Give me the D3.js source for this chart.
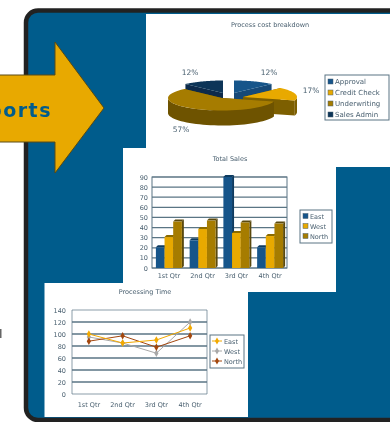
<!DOCTYPE html>
<html><head><meta charset="utf-8">
<script src="https://cdn.jsdelivr.net/npm/d3@7"></script>
<style>html,body{margin:0;padding:0;background:#fff;overflow:hidden}svg{display:block}text{font-family:"DejaVu Sans",sans-serif}</style>
</head><body><svg id="c" width="390" height="422"></svg>
<script>
const pieLabels=["Approval","Credit Check","Underwriting","Sales Admin"];
const pieValues=[12,17,57,12];
const pieTexts=["12%","17%","57%","12%"];
const quarters=["1st Qtr","2nd Qtr","3rd Qtr","4th Qtr"];
const barSeries=["East","West","North"];
const barEast=[20.4,27.4,90,20.4];
const barWest=[30.6,38.6,34.6,31.6];
const barNorth=[45.9,46.9,45,43.9];
const barTicks=[0,10,20,30,40,50,60,70,80,90];
const lineSeries=["East","West","North"];
const lineEast=[100,85,90,110];
const lineWest=[95,85,68,120];
const lineNorth=[88,97,78,97];
const lineTicks=[0,20,40,60,80,100,120,140];

const BLUE="#005c8c",GOLD="#e8a900",OLIVE="#a67c00",NAVY="#0b3558",STEEL="#14548a",INK="#4a6070",GRID="#5a7484";
const svg=d3.select("#c");
const defs=svg.append("defs");
defs.append("filter").attr("id","soft").attr("filterUnits","userSpaceOnUse").attr("x",-10).attr("y",-10).attr("width",420).attr("height",450)
  .append("feGaussianBlur").attr("stdDeviation",0.6);
const root=svg.append("g").attr("filter","url(#soft)");

// stray mark at the left edge
root.append("rect").attr("x",0).attr("y",329).attr("width",1.5).attr("height",9).attr("fill","#666");

// frame
root.append("rect").attr("x",26).attr("y",10.5).attr("width",400).attr("height",409.5).attr("rx",12)
  .attr("fill",BLUE).attr("stroke","#222").attr("stroke-width",4.5);

// panels
root.append("rect").attr("x",146).attr("y",14).attr("width",244).attr("height",153).attr("fill","#fff");
root.append("rect").attr("x",123).attr("y",148).attr("width",213).attr("height",144).attr("fill","#fff");
root.append("rect").attr("x",44.5).attr("y",283).attr("width",203.5).attr("height",134).attr("fill","#fff");

// arrow
root.append("path").attr("d",d3.line()([[-4,75],[55,75],[55,42],[104,108],[55,173],[55,142],[-4,142]])+"Z")
  .attr("fill",GOLD).attr("stroke","#5a4a10").attr("stroke-width",1);
root.append("text").attr("x",52).attr("y",117).attr("text-anchor","end").attr("font-size",19).attr("font-weight","bold")
  .attr("letter-spacing",1.5).attr("fill",BLUE).text("Reports");

function title(x,y,t){root.append("text").attr("x",x).attr("y",y).attr("text-anchor","middle").attr("font-size",6.5).attr("fill",INK).text(t);}
function legend(x,y,w,h,names,colors,dy,fs,line){
  root.append("rect").attr("x",x).attr("y",y).attr("width",w).attr("height",h).attr("fill","#fff").attr("stroke",GRID).attr("stroke-width",1);
  names.forEach((n,i)=>{
    const yy=y+dy/2+1+i*dy;
    if(line){
      root.append("line").attr("x1",x+2).attr("x2",x+12).attr("y1",yy).attr("y2",yy).attr("stroke",colors[i]);
      root.append("path").attr("transform",`translate(${x+7},${yy})`).attr("d",d3.symbol(d3.symbolDiamond,14)()).attr("fill",colors[i]);
    } else {
      root.append("rect").attr("x",x+3).attr("y",yy-2.5).attr("width",5).attr("height",5).attr("fill",colors[i]).attr("stroke",INK).attr("stroke-width",.5);
    }
    root.append("text").attr("x",x+(line?14:10)).attr("y",yy+2.5).attr("font-size",fs).attr("fill",INK).text(n);
  });
}

// pie
title(270,27,"Process cost breakdown");
const pieTop=[STEEL,GOLD,OLIVE,NAVY],pieSide=["#124a78","#7d5e00","#6e5300","#082c4c"];
const arcs=d3.pie().sort(null)(pieValues);
const centers=[[234,93],[243,97],[222,98],[223,93]];
const rx=54,ry=12.5,depth=15;
const pt=(c,a)=>[c[0]+rx*Math.sin(a),c[1]-ry*Math.cos(a)];
function wedge(c,a0,a1){
  const p=[c];const n=40;
  for(let i=0;i<=n;i++)p.push(pt(c,a0+(a1-a0)*i/n));
  return d3.line()(p)+"Z";
}
function side(c,a0,a1){
  const from=Math.max(a0,Math.PI/2),to=Math.min(a1,Math.PI*1.5);
  if(to<=from)return null;
  const up=[],dn=[];const n=40;
  for(let i=0;i<=n;i++){const q=pt(c,from+(to-from)*i/n);up.push(q);dn.unshift([q[0],q[1]+depth]);}
  return d3.line()(up.concat(dn))+"Z";
}
[3,0,1,2].forEach(i=>{
  const a=arcs[i],c=centers[i];
  const cut0=pt(c,a.startAngle),cut1=pt(c,a.endAngle);
  [cut0,cut1].forEach(q=>root.append("path")
    .attr("d",d3.line()([c,q,[q[0],q[1]+depth],[c[0],c[1]+depth]])+"Z").attr("fill",pieSide[i]));
  const s=side(c,a.startAngle,a.endAngle);
  if(s)root.append("path").attr("d",s).attr("fill",pieSide[i]);
  root.append("path").attr("d",wedge(c,a.startAngle,a.endAngle)).attr("fill",pieTop[i]);
});
const pieLabelPos=[[269,75],[311,93],[181,132],[190,75]];
pieTexts.forEach((t,i)=>root.append("text").attr("x",pieLabelPos[i][0]).attr("y",pieLabelPos[i][1]).attr("text-anchor","middle").attr("font-size",7.5).attr("fill",INK).text(t));
legend(325,75,64,45,pieLabels,pieTop,11,7,false);

// bars
title(230,161,"Total Sales");
const bx=d3.scaleBand().domain(quarters).range([152,287]);
const by=d3.scaleLinear().domain([0,90]).range([268,177]);
const bs=d3.scaleBand().domain(barSeries).range([0,bx.bandwidth()]).paddingOuter(.45).paddingInner(0);
const barVals=[barEast,barWest,barNorth],barCols=[STEEL,GOLD,OLIVE],barDark=["#0d3a60","#8a6a00","#5a4a10"];
barTicks.forEach(t=>root.append("line").attr("x1",bx.range()[0]).attr("x2",bx.range()[1]).attr("y1",by(t)).attr("y2",by(t)).attr("stroke",GRID).attr("stroke-width",1.2));
root.append("rect").attr("x",152).attr("y",177).attr("width",135).attr("height",91).attr("fill","none").attr("stroke",GRID);
quarters.forEach((q,qi)=>barSeries.forEach((s,si)=>{
  const x=bx(q)+bs(s),w=bs.bandwidth(),y=by(barVals[si][qi]);
  root.append("path").attr("d",`M${x+w},${y}l2,-2v${by(0)-y}l-2,2z`).attr("fill",barDark[si]);
  root.append("path").attr("d",`M${x},${y}l2,-2h${w}l-2,2z`).attr("fill",barDark[si]);
  root.append("rect").attr("x",x).attr("y",y).attr("width",w).attr("height",by(0)-y).attr("fill",barCols[si]);
}));
barTicks.forEach(t=>root.append("text").attr("x",148).attr("y",by(t)+2.5).attr("text-anchor","end").attr("font-size",6.5).attr("fill",INK).text(t));
quarters.forEach(q=>root.append("text").attr("x",bx(q)+bx.bandwidth()/2).attr("y",278).attr("text-anchor","middle").attr("font-size",6.5).attr("fill",INK).text(q));
legend(300,210,32,33,barSeries,barCols,10,6.5,false);

// lines
title(145,294,"Processing Time");
const lx=d3.scalePoint().domain(quarters).range([72,207]).padding(.5);
const ly=d3.scaleLinear().domain([0,140]).range([394,310]);
lineTicks.forEach(t=>root.append("line").attr("x1",72).attr("x2",207).attr("y1",ly(t)).attr("y2",ly(t)).attr("stroke",GRID).attr("stroke-width",t==0||t==140?.7:1.4));
root.append("line").attr("x1",72).attr("x2",72).attr("y1",310).attr("y2",394).attr("stroke",GRID).attr("stroke-width",.7);
root.append("line").attr("x1",207).attr("x2",207).attr("y1",310).attr("y2",394).attr("stroke",GRID).attr("stroke-width",.7);
const lineVals=[lineEast,lineWest,lineNorth],lineCols=["#f2a900","#a8a8a8","#a3470f"];
const lg=d3.line().x((d,i)=>lx(quarters[i])).y(d=>ly(d));
[1,2,0].forEach(k=>{
  root.append("path").attr("d",lg(lineVals[k])).attr("fill","none").attr("stroke",lineCols[k]).attr("stroke-width",1);
  lineVals[k].forEach((v,i)=>root.append("path").attr("transform",`translate(${lx(quarters[i])},${ly(v)})`)
    .attr("d",d3.symbol(d3.symbolDiamond,16)()).attr("fill",lineCols[k]));
});
lineTicks.forEach(t=>root.append("text").attr("x",66).attr("y",ly(t)+2.5).attr("text-anchor","end").attr("font-size",6.5).attr("fill",INK).text(t));
quarters.forEach(q=>root.append("text").attr("x",lx(q)).attr("y",407).attr("text-anchor","middle").attr("font-size",6.5).attr("fill",INK).text(q));
legend(210,335,34,33,lineSeries,lineCols,10,6.5,true);
</script></body></html>
